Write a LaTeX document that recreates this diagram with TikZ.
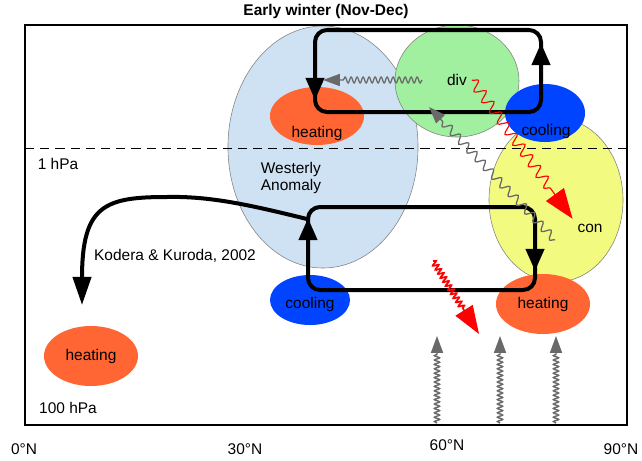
\documentclass[tikz,border=0pt]{standalone}
\usepackage{fontspec}
\setmainfont{Liberation Sans}
\usepackage{tikz}
\usetikzlibrary{positioning,arrows.meta,shapes.geometric,decorations.pathmorphing}
\definecolor{wlyblue}{RGB}{207,226,243}
\definecolor{divgreen}{RGB}{160,240,160}
\definecolor{conyellow}{RGB}{242,250,128}
\definecolor{heatorange}{RGB}{255,102,51}
\definecolor{coolblue}{RGB}{0,68,255}
\definecolor{wavegray}{RGB}{105,105,105}

\begin{document}
\begin{tikzpicture}[x=0.025cm,y=-0.025cm,
  font=\fontsize{11}{12.5}\selectfont,
  blob/.style={ellipse,draw=gray,inner sep=0pt},
  heat/.style={ellipse,fill=heatorange,inner sep=0pt,minimum width=2.35cm,minimum height=1.45cm},
  cool/.style={ellipse,fill=coolblue,inner sep=0pt,minimum width=2cm,minimum height=1.45cm},
  cell/.style={line width=0.1cm,rounded corners=0.3cm},
  celltip/.style={line width=0.1cm,-{Triangle[length=0.55cm,width=0.45cm]}},
  gwave/.style={draw=wavegray,line width=0.9pt,decorate,
    decoration={snake,amplitude=0.075cm,segment length=0.15cm,post length=0.45cm},
    -{Triangle[length=0.42cm,width=0.3cm]}},
  rwave/.style={draw=red,line width=0.8pt,decorate,
    decoration={snake,amplitude=0.13cm,segment length=0.33cm,post length=0.78cm},
    -{Triangle[length=0.75cm,width=0.55cm]}}]
  \useasboundingbox (0,0) rectangle (642,460);
  % anomaly regions
  \node[blob,fill=wlyblue,minimum width=4.75cm,minimum height=6.05cm] (wly) at (323,147) {};
  \node[blob,fill=divgreen,minimum width=3.1cm,minimum height=2.8cm] (divz) at (457,81) {};
  \node[blob,fill=conyellow,minimum width=3.35cm,minimum height=4.1cm] (conz) at (556,200) {};
  % heating and cooling
  \node[heat] (heatN) at (317,116) {};
  \node[cool] (coolN) at (545,113) {};
  \node[cool,minimum height=1.25cm] (coolS) at (310,300) {};
  \node[heat,minimum height=1.5cm] (heatP) at (543,304) {};
  \node[heat,minimum height=1.5cm] (heatE) at (91,356) {};
  \node (heatNtxt) at (317,133) {heating};
  \node (coolNtxt) at (546,131) {cooling};
  \node (coolStxt) at (310,304) {cooling};
  \node (heatPtxt) at (543,304) {heating};
  \node (heatEtxt) at (91,356) {heating};
  \node (divtxt) at (457,80) {div};
  \node (contxt) at (590,228) {con};
  \node[align=left] (wlytxt) at (291,178) {Westerly\\Anomaly};
  \node (kktxt) at (175,256) {Kodera \& Kuroda, 2002};
  \node (hpa1) at (58,164) {1 hPa};
  \node (hpa100) at (68,408) {100 hPa};
  \node[font=\fontsize{11}{13}\selectfont\bfseries] (title) at (326,12) {Early winter (Nov-Dec)};
  \foreach \lat/\x/\y in {0/24/449,30/245/449,60/447/445,90/621/449}
    \node (lat\lat) at (\x,\y) {\lat°N};
  % 1 hPa level
  \draw[dash pattern=on 0.23cm off 0.15cm,line width=0.5pt] (25,148) -- (627,148);
  % circulation cells
  \draw[cell] (315,30) rectangle (541,112);
  \draw[celltip] (315,70) -- (315,100);
  \draw[celltip] (541,80) -- (541,43);
  \draw[cell] (308,207) rectangle (535,290);
  \draw[celltip] (308,250) -- (308,218);
  \draw[celltip] (535,240) -- (535,271);
  \coordinate (kk0) at (307,219);
  \coordinate (kk1) at (82,305);
  \draw[line width=0.1cm,-{Triangle[length=0.7cm,width=0.45cm]}] (kk0)
    .. controls (250,205) and (210,196) .. (167,197)
    .. controls (105,197) and (82,205) .. (kk1);
  % wave forcing
  \coordinate (gh0) at (422,80);
  \coordinate (gh1) at (323,80);
  \coordinate (gd0) at (555,240);
  \coordinate (gd1) at (429,107);
  \coordinate (rs0) at (433,261);
  \coordinate (rs1) at (479,334);
  \draw[gwave] (gh0) -- (gh1);
  \draw[gwave,decoration={amplitude=0.1cm,segment length=0.3cm}] (gd0) -- (gd1);
  \draw[rwave] (divtxt.east) -- (contxt.north west);
  \draw[rwave,line width=1.2pt,decoration={amplitude=0.07cm,segment length=0.12cm,post length=0.72cm},
    -{Triangle[length=0.7cm,width=0.5cm]}] (rs0) -- (rs1);
  \foreach \x in {437,500,556} {
    \coordinate (up\x) at (\x,423);
    \coordinate (tip\x) at (\x,336);
    \draw[gwave,line width=1pt,decoration={amplitude=0.065cm,segment length=0.11cm}] (up\x) -- (tip\x);
  }
  % frame
  \draw[line width=1.5pt] (25,25) rectangle (627,425);
\end{tikzpicture}
\end{document}
